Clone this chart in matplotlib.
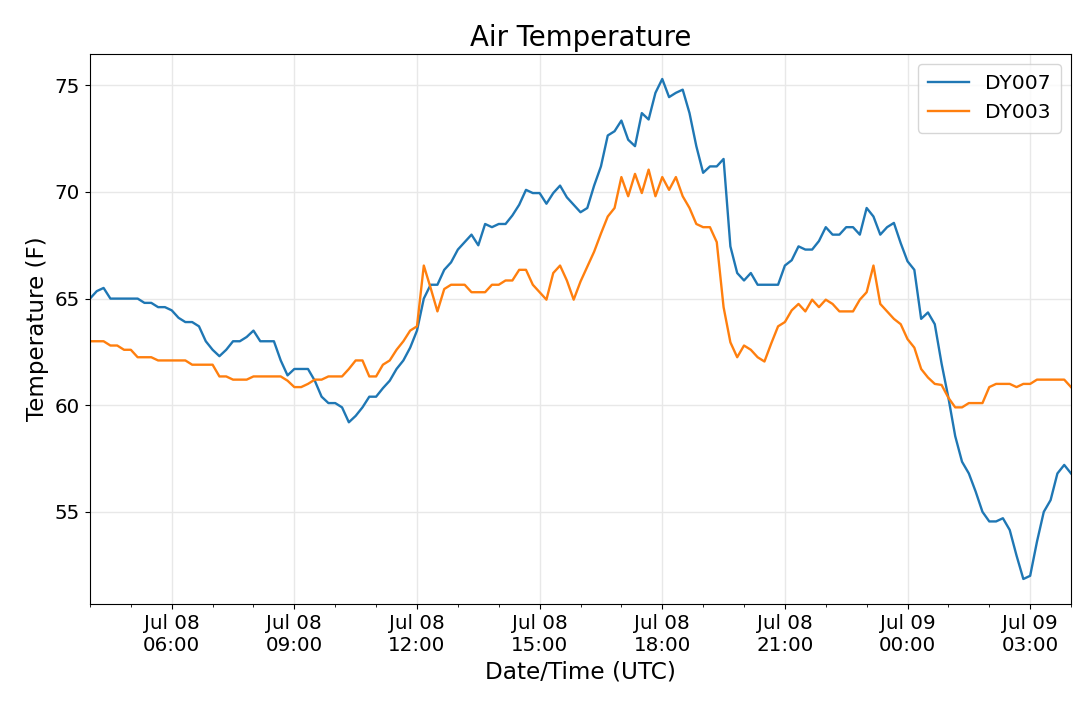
import matplotlib
matplotlib.use('Agg')
import matplotlib.pyplot as plt
import matplotlib.dates as mdates
import pandas as pd

# 10-minute readings, Jul 08 04:00 -> Jul 09 04:00 (UTC)
start_time = '2019-07-08 04:00'
step = '10min'

dy007 = [65.0, 65.35, 65.5, 65.0, 65.0, 65.0, 65.0, 65.0, 64.8, 64.8,
         64.6, 64.6, 64.45, 64.1, 63.9, 63.9, 63.7, 63.0, 62.6, 62.3,
         62.6, 63.0, 63.0, 63.2, 63.5, 63.0, 63.0, 63.0, 62.1, 61.4,
         61.7, 61.7, 61.7, 61.15, 60.4, 60.1, 60.1, 59.9, 59.2, 59.5,
         59.9, 60.4, 60.4, 60.8, 61.15, 61.7, 62.1, 62.7, 63.5, 65.0,
         65.65, 65.65, 66.35, 66.7, 67.3, 67.65, 68.0, 67.5, 68.5, 68.35,
         68.5, 68.5, 68.9, 69.4, 70.1, 69.95, 69.95, 69.45, 69.95, 70.3,
         69.75, 69.4, 69.05, 69.25, 70.3, 71.2, 72.65, 72.85, 73.35, 72.45,
         72.15, 73.7, 73.4, 74.65, 75.3, 74.45, 74.65, 74.8, 73.7, 72.15,
         70.9, 71.2, 71.2, 71.55, 67.45, 66.2, 65.85, 66.2, 65.65, 65.65,
         65.65, 65.65, 66.55, 66.8, 67.45, 67.3, 67.3, 67.7, 68.35, 68.0,
         68.0, 68.35, 68.35, 68.0, 69.25, 68.85, 68.0, 68.35, 68.55, 67.6,
         66.75, 66.35, 64.05, 64.35, 63.8, 61.95, 60.35, 58.55, 57.35, 56.8,
         55.95, 55.0, 54.55, 54.55, 54.7, 54.15, 52.95, 51.85, 52.0, 53.6,
         55.0, 55.55, 56.8, 57.2, 56.8]

dy003 = [63.0, 63.0, 63.0, 62.8, 62.8, 62.6, 62.6, 62.25, 62.25, 62.25,
         62.1, 62.1, 62.1, 62.1, 62.1, 61.9, 61.9, 61.9, 61.9, 61.35,
         61.35, 61.2, 61.2, 61.2, 61.35, 61.35, 61.35, 61.35, 61.35, 61.15,
         60.85, 60.85, 61.0, 61.2, 61.2, 61.35, 61.35, 61.35, 61.7, 62.1,
         62.1, 61.35, 61.35, 61.9, 62.1, 62.6, 63.0, 63.5, 63.7, 66.55,
         65.5, 64.4, 65.45, 65.65, 65.65, 65.65, 65.3, 65.3, 65.3, 65.65,
         65.65, 65.85, 65.85, 66.35, 66.35, 65.65, 65.3, 64.95, 66.2, 66.55,
         65.85, 64.95, 65.8, 66.5, 67.2, 68.05, 68.85, 69.25, 70.7, 69.8,
         70.85, 69.95, 71.05, 69.8, 70.7, 70.1, 70.7, 69.8, 69.25, 68.5,
         68.35, 68.35, 67.65, 64.6, 62.95, 62.25, 62.8, 62.6, 62.25, 62.05,
         62.9, 63.7, 63.9, 64.45, 64.75, 64.4, 64.95, 64.6, 64.95, 64.75,
         64.4, 64.4, 64.4, 64.95, 65.3, 66.55, 64.75, 64.4, 64.05, 63.8,
         63.1, 62.7, 61.7, 61.3, 61.0, 60.95, 60.35, 59.9, 59.9, 60.1,
         60.1, 60.1, 60.85, 61.0, 61.0, 61.0, 60.85, 61.0, 61.0, 61.2,
         61.2, 61.2, 61.2, 61.2, 60.85]

times = pd.date_range(start_time, periods=len(dy007), freq=step)

fig = plt.figure(figsize=(10.8, 7.02), dpi=100)
ax = fig.add_axes([0.0833, 0.1396, 0.9084, 0.7835])

ax.plot(times, dy007, color='#1f77b4', linewidth=1.7, label='DY007')
ax.plot(times, dy003, color='#ff7f0e', linewidth=1.7, label='DY003')

ax.set_xlim(times[0], times[-1])
ax.xaxis.set_major_locator(mdates.HourLocator(byhour=range(0, 24, 3)))
ax.xaxis.set_minor_locator(mdates.HourLocator())
ax.xaxis.set_major_formatter(mdates.DateFormatter('%b %d\n%H:%M'))
ax.set_yticks([55, 60, 65, 70, 75])

ax.grid(True, which='major', color='#e8e8e8', linewidth=1.0)
ax.set_axisbelow(True)
ax.tick_params(axis='both', which='major', labelsize=14.3)

ax.set_title('Air Temperature', fontsize=19.9)
ax.set_xlabel('Date/Time (UTC)', fontsize=16.7)
ax.set_ylabel('Temperature (F)', fontsize=16.6)
ax.legend(loc='upper right', fontsize=14.6, borderpad=0.5)

fig.savefig('out.png', dpi=100)
